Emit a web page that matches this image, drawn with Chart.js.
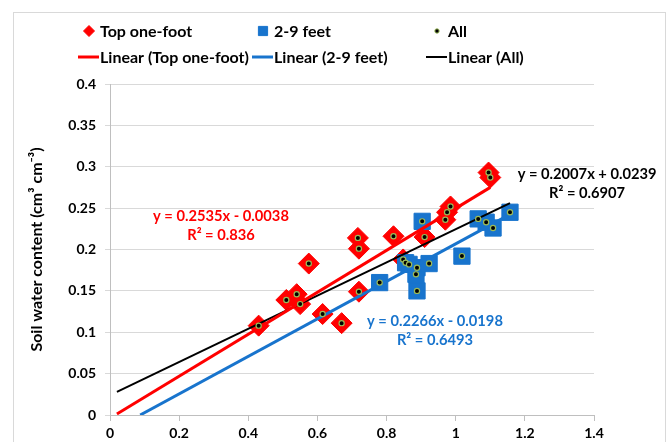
<!DOCTYPE html>
<html lang="en">
<head>
    <meta charset="UTF-8">
    <title>Soil water content</title>
    <style>
        body {
            margin: 0;
            background: #fff;
        }
        .frame {
            position: absolute;
            left: 13px;
            top: 12px;
            width: 651px;
            height: 460px;
            border: 1px solid #d9d9d9;
        }
        #chart {
            position: absolute;
            left: 0;
            top: 0;
        }
    </style>
</head>
<body>
    <div class="frame"></div>
    <canvas id="chart" width="669" height="442"></canvas>

    <script src="https://cdn.jsdelivr.net/npm/chart.js"></script>
    <script>
        // Top one-foot readings
        const topX = [0.43, 0.51, 0.54, 0.55, 0.575, 0.615, 0.67, 0.717, 0.72, 0.72, 0.82, 0.848, 0.91, 0.97, 0.975, 0.985, 1.095, 1.10];
        const topY = [0.108, 0.139, 0.146, 0.134, 0.183, 0.122, 0.111, 0.214, 0.201, 0.149, 0.216, 0.188, 0.215, 0.236, 0.245, 0.252, 0.293, 0.287];

        // 2-9 feet readings
        const deepX = [0.78, 0.855, 0.865, 0.888, 0.885, 0.923, 0.888, 0.903, 1.018, 1.065, 1.088, 1.108, 1.157];
        const deepY = [0.160, 0.184, 0.182, 0.178, 0.170, 0.183, 0.150, 0.234, 0.192, 0.237, 0.233, 0.226, 0.245];

        // linear fits: slope, intercept, R², x range of the drawn line
        const topFit  = { slope: 0.2535, intercept: -0.0038, r2: '0.836',  from: 0.02, to: 1.10 };
        const deepFit = { slope: 0.2266, intercept: -0.0198, r2: '0.6493', from: 0.02, to: 1.157 };
        const allFit  = { slope: 0.2007, intercept: 0.0239,  r2: '0.6907', from: 0.02, to: 1.157 };

        const xTicks = [0, 0.2, 0.4, 0.6, 0.8, 1, 1.2, 1.4];
        const yTicks = [0, 0.05, 0.1, 0.15, 0.2, 0.25, 0.3, 0.35, 0.4];

        const RED = '#ff0000';
        const BLUE = '#1874cd';
        const FONT = 'Lato, Roboto, sans-serif';

        const toPoints = (xs, ys) => xs.map((x, i) => ({ x: x, y: ys[i] }));

        // trend line end points, clipped at y = 0
        function fitLine(fit) {
            const start = Math.max(fit.from, -fit.intercept / fit.slope);
            return [start, fit.to].map(x => ({ x: x, y: fit.slope * x + fit.intercept }));
        }

        function equation(fit) {
            const sign = fit.intercept < 0 ? '-' : '+';
            return 'y = ' + fit.slope.toFixed(4) + 'x ' + sign + ' ' + Math.abs(fit.intercept).toFixed(4);
        }

        const topPts = toPoints(topX, topY);
        const deepPts = toPoints(deepX, deepY);

        // two-row legend with fixed columns
        const columnLegend = {
            id: 'columnLegend',
            afterDraw(chart, args, opts) {
                const ctx = chart.ctx;
                ctx.save();
                ctx.font = opts.font;
                ctx.textBaseline = 'middle';
                opts.items.forEach(item => {
                    const ds = chart.data.datasets[item.dataset];
                    const y = opts.rows[item.row];
                    if (item.line) {
                        ctx.strokeStyle = ds.borderColor;
                        ctx.lineWidth = ds.borderWidth;
                        ctx.beginPath();
                        ctx.moveTo(item.x - 22, y);
                        ctx.lineTo(item.x - 1, y);
                        ctx.stroke();
                    } else {
                        ctx.fillStyle = ds.backgroundColor;
                        ctx.strokeStyle = ds.borderColor;
                        Chart.helpers.drawPoint(ctx, {
                            pointStyle: ds.pointStyle,
                            radius: item.radius,
                            borderWidth: item.border
                        }, item.x - 11, y);
                    }
                    ctx.fillStyle = '#000';
                    ctx.fillText(ds.label, item.x, y + 1);
                });
                ctx.restore();
            }
        };

        // equation and R² labels placed in data units
        const fitLabels = {
            id: 'fitLabels',
            afterDatasetsDraw(chart, args, opts) {
                const ctx = chart.ctx;
                const xs = chart.scales.x;
                const ys = chart.scales.y;
                ctx.save();
                ctx.font = opts.font;
                ctx.textAlign = 'center';
                ctx.textBaseline = 'middle';
                opts.labels.forEach(l => {
                    const px = xs.getPixelForValue(l.x);
                    const py = ys.getPixelForValue(l.y);
                    ctx.fillStyle = l.color;
                    ctx.fillText(equation(l.fit), px, py);
                    ctx.fillText('R\u00b2 = ' + l.fit.r2, px, py + 19);
                });
                ctx.restore();
            }
        };

        const tickFont = { family: FONT, size: 14, weight: 'bold' };

        new Chart(document.getElementById('chart'), {
            type: 'scatter',
            data: {
                datasets: [
                    {
                        label: 'Top one-foot',
                        data: topPts,
                        pointStyle: 'rectRot',
                        pointRadius: 10.5,
                        backgroundColor: RED,
                        borderColor: RED,
                        borderWidth: 1,
                        order: 4
                    },
                    {
                        label: '2-9 feet',
                        data: deepPts,
                        pointStyle: 'rect',
                        pointRadius: 11.5,
                        backgroundColor: BLUE,
                        borderColor: BLUE,
                        borderWidth: 1,
                        order: 3
                    },
                    {
                        label: 'All',
                        data: topPts.concat(deepPts),
                        pointStyle: 'circle',
                        pointRadius: 2.6,
                        backgroundColor: '#000',
                        borderColor: '#9bbb59',
                        borderWidth: 1.2,
                        order: 0
                    },
                    {
                        label: 'Linear (Top one-foot)',
                        type: 'line',
                        data: fitLine(topFit),
                        borderColor: RED,
                        borderWidth: 3,
                        pointRadius: 0,
                        order: 1
                    },
                    {
                        label: 'Linear (2-9 feet)',
                        type: 'line',
                        data: fitLine(deepFit),
                        borderColor: BLUE,
                        borderWidth: 3,
                        pointRadius: 0,
                        order: 1
                    },
                    {
                        label: 'Linear (All)',
                        type: 'line',
                        data: fitLine(allFit),
                        borderColor: '#000',
                        borderWidth: 2,
                        pointRadius: 0,
                        order: 1
                    }
                ]
            },
            options: {
                responsive: false,
                animation: false,
                layout: { padding: { left: 0, right: 75, top: 84, bottom: 0 } },
                plugins: {
                    legend: { display: false },
                    tooltip: { enabled: false },
                    columnLegend: {
                        font: 'bold 16px ' + FONT,
                        rows: [31, 57],
                        items: [
                            { dataset: 0, row: 0, x: 100, radius: 5.5, border: 1 },
                            { dataset: 1, row: 0, x: 274, radius: 6.5, border: 1 },
                            { dataset: 2, row: 0, x: 448, radius: 2.2, border: 1 },
                            { dataset: 3, row: 1, x: 100, line: true },
                            { dataset: 4, row: 1, x: 274, line: true },
                            { dataset: 5, row: 1, x: 448, line: true }
                        ]
                    },
                    fitLabels: {
                        font: 'bold 14.7px ' + FONT,
                        labels: [
                            { fit: topFit, x: 0.321, y: 0.2398, color: RED },
                            { fit: deepFit, x: 0.940, y: 0.1136, color: BLUE },
                            { fit: allFit, x: 1.380, y: 0.2913, color: '#000' }
                        ]
                    }
                },
                scales: {
                    x: {
                        type: 'linear',
                        min: 0,
                        max: 1.4,
                        afterBuildTicks: s => { s.ticks = xTicks.map(v => ({ value: v })); },
                        afterFit: s => { s.height = 27; },
                        ticks: {
                            color: '#000',
                            font: tickFont,
                            padding: 4,
                            maxRotation: 0,
                            callback: v => String(+v.toFixed(2))
                        },
                        grid: { drawOnChartArea: false, tickLength: 6, color: '#bfbfbf' },
                        border: { color: '#bfbfbf', width: 1 }
                    },
                    y: {
                        min: 0,
                        max: 0.4,
                        afterBuildTicks: s => { s.ticks = yTicks.map(v => ({ value: v })); },
                        afterFit: s => { s.width = 110; },
                        ticks: {
                            color: '#000',
                            font: tickFont,
                            padding: 9,
                            callback: v => String(+v.toFixed(2))
                        },
                        grid: { color: '#d9d9d9', tickLength: 5 },
                        border: { color: '#bfbfbf', width: 1 },
                        title: {
                            display: true,
                            text: 'Soil water content (cm\u00b3 cm\u207b\u00b3)',
                            color: '#000',
                            font: { family: FONT, size: 16, weight: 'bold' },
                            padding: { top: 27, bottom: 0 }
                        }
                    }
                }
            },
            plugins: [columnLegend, fitLabels]
        });
    </script>
</body>
</html>
